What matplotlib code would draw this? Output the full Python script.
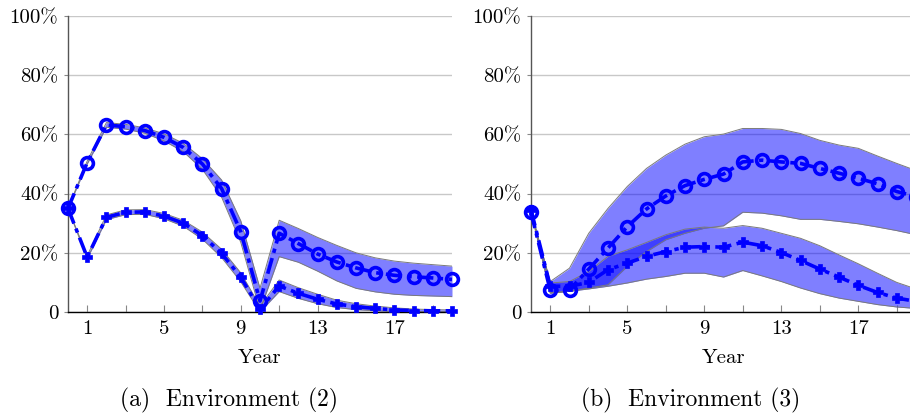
import matplotlib
matplotlib.use("Agg")
import matplotlib.pyplot as plt
import numpy as np

plt.rcParams['font.family'] = ['cmr10', 'DejaVu Serif']
plt.rcParams['axes.formatter.use_mathtext'] = True

years = list(range(21))

# Environment (2)
env2_a = [35.0, 50.5, 63.2, 62.6, 61.3, 59.0, 55.6, 50.0, 41.7, 27.1, 3.7,
          26.6, 23.1, 19.6, 16.9, 14.9, 13.3, 12.4, 11.9, 11.5, 11.0]
env2_a_lo = [35.0, 50.0, 62.4, 61.8, 60.4, 57.8, 54.2, 48.2, 38.8, 23.5, 0.5,
             18.7, 16.8, 13.8, 10.5, 8.0, 6.8, 6.0, 5.6, 5.4, 5.2]
env2_a_hi = [35.0, 51.0, 64.0, 63.4, 62.2, 60.2, 57.0, 51.8, 44.6, 30.8, 8.0,
             31.0, 28.2, 25.2, 22.5, 20.0, 18.3, 17.2, 16.5, 16.0, 15.5]
env2_b = [35.0, 18.5, 32.0, 33.7, 33.8, 32.4, 30.0, 25.8, 19.8, 11.7, 0.9,
          8.8, 6.3, 4.3, 2.7, 1.8, 1.2, 0.7, 0.5, 0.4, 0.4]
env2_b_lo = [35.0, 18.0, 31.2, 32.9, 33.0, 31.5, 29.0, 24.6, 18.4, 10.2, 0.0,
             6.9, 4.6, 2.8, 1.5, 0.8, 0.4, 0.2, 0.1, 0.1, 0.1]
env2_b_hi = [35.0, 19.0, 32.8, 34.5, 34.6, 33.3, 31.0, 27.0, 21.2, 13.2, 2.0,
             10.8, 8.2, 6.0, 4.0, 2.8, 2.0, 1.4, 1.0, 0.8, 0.7]

# Environment (3)
env3_a = [33.7, 7.3, 7.5, 14.5, 21.6, 28.8, 34.8, 39.2, 42.7, 44.8, 46.6,
          50.7, 51.3, 50.7, 50.2, 48.5, 46.9, 45.2, 43.3, 40.7, 39.0]
env3_a_lo = [33.7, 6.4, 7.0, 8.1, 9.2, 15.4, 20.4, 24.4, 26.6, 28.3, 29.1,
             33.7, 33.4, 32.5, 31.3, 31.3, 30.6, 29.8, 28.7, 27.5, 26.1]
env3_a_hi = [33.7, 10.3, 14.8, 26.6, 35.0, 42.4, 48.5, 53.0, 56.7, 59.2, 60.1,
             62.0, 62.0, 61.7, 60.3, 58.0, 56.4, 55.3, 52.7, 50.2, 47.8]
env3_b = [34.5, 8.7, 8.7, 10.0, 14.3, 16.5, 18.8, 20.4, 21.9, 22.1, 21.9,
          23.6, 22.4, 20.1, 17.4, 14.5, 11.8, 9.0, 6.6, 4.7, 3.6]
env3_b_lo = [34.5, 6.4, 7.0, 7.8, 8.7, 9.8, 11.1, 12.0, 13.1, 13.1, 11.8,
             14.0, 12.2, 10.3, 8.1, 6.2, 4.7, 3.6, 2.5, 1.7, 1.2]
env3_b_hi = [34.5, 9.8, 10.3, 13.7, 18.8, 21.0, 23.5, 26.1, 28.0, 28.7, 28.3,
             29.2, 28.3, 26.6, 24.9, 22.4, 19.3, 16.3, 13.1, 10.0, 7.8]

yticks = [0, 20, 40, 60, 80, 100]
ytick_labels = ['0', '20%', '40%', '60%', '80%', '100%']
xticks_major = [1, 5, 9, 13, 17]
xticks_minor = [3, 7, 11, 15, 19]
captions = ['(a)  Environment (2)', '(b)  Environment (3)']

W, H = 910, 419
fig = plt.figure(figsize=(W / 100, H / 100), dpi=100)

axes_px = [(68, 384), (531, 385)]
caption_cx = [229, 691]
bottom_px, top_px = 312, 16

datasets = [
    (env2_a, env2_a_lo, env2_a_hi, env2_b, env2_b_lo, env2_b_hi),
    (env3_a, env3_a_lo, env3_a_hi, env3_b, env3_b_lo, env3_b_hi),
]

blue = '#0000ff'
fillc = '#0000ff'
edgec = '#7a7a7a'
ls = (0, (4.5, 1.5, 1.2, 1.5))

for i, ((x0, w), data) in enumerate(zip(axes_px, datasets)):
    ax = fig.add_axes([x0 / W, (H - bottom_px) / H, w / W, (bottom_px - top_px) / H])
    a, alo, ahi, b, blo, bhi = data
    ax.fill_between(years, alo, ahi, color=fillc, alpha=0.5, lw=0, zorder=2)
    ax.plot(years, alo, color=edgec, lw=0.7, zorder=2.1)
    ax.plot(years, ahi, color=edgec, lw=0.7, zorder=2.1)
    ax.fill_between(years, blo, bhi, color=fillc, alpha=0.5, lw=0, zorder=2)
    ax.plot(years, blo, color=edgec, lw=0.7, zorder=2.1)
    ax.plot(years, bhi, color=edgec, lw=0.7, zorder=2.1)
    ax.plot(years, a, color=blue, lw=2.6, linestyle=ls, marker='o', ms=8.5,
            mfc='none', mec=blue, mew=2.6, zorder=3, clip_on=False)
    ax.plot(years, b, color=blue, lw=2.6, linestyle=ls, marker='P', ms=7.5,
            mfc=blue, mec=blue, mew=0.5, zorder=3, clip_on=False)

    ax.set_xlim(0, 20)
    ax.set_ylim(0, 100)
    ax.set_yticks(yticks)
    ax.set_yticklabels(ytick_labels, fontsize=15)
    ax.set_xticks(xticks_major)
    ax.set_xticklabels([str(t) for t in xticks_major], fontsize=15)
    ax.set_xticks(xticks_minor, minor=True)
    ax.tick_params(axis='x', which='both', direction='in', length=5,
                   color='#888888', width=0.8, pad=6)
    ax.tick_params(axis='y', direction='out', length=3, color='#888888',
                   width=0.8, pad=4)
    ax.grid(axis='y', color='#c8c8c8', lw=1.0, zorder=0)
    ax.set_axisbelow(True)
    for s in ['top', 'right']:
        ax.spines[s].set_visible(False)
    ax.spines['left'].set_color('#555555')
    ax.spines['left'].set_linewidth(1.0)
    ax.spines['bottom'].set_color('black')
    ax.spines['bottom'].set_linewidth(1.0)
    ax.set_xlabel('Year', fontsize=15, labelpad=8)
    fig.text(caption_cx[i] / W, (H - 400) / H, captions[i], ha='center',
             va='center', fontsize=17)

fig.savefig('out.png', dpi=100)
